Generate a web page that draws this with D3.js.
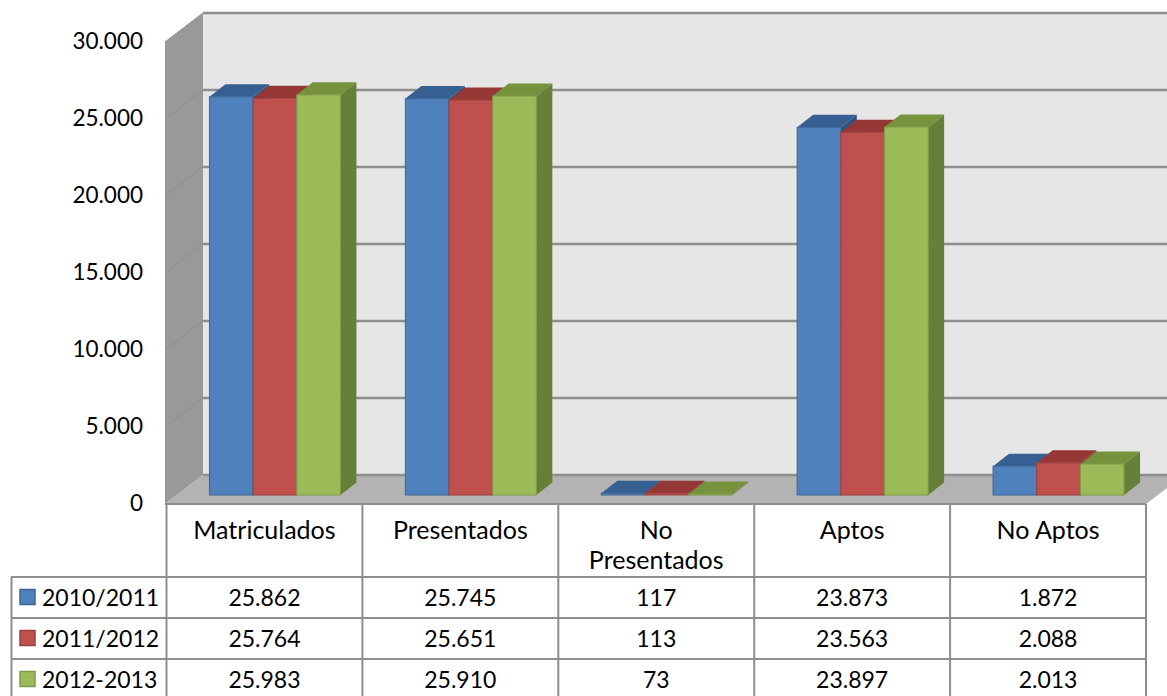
<!DOCTYPE html>
<html>
<head>
<meta charset="utf-8">
<script src="https://cdnjs.cloudflare.com/ajax/libs/d3/7.8.5/d3.min.js"></script>
<style>
  html, body { margin: 0; padding: 0; background: #fff; }
  svg { display: block; }
  text { font-family: Lato, "Open Sans", sans-serif; font-size: 23px; fill: #000; }
</style>
</head>
<body>
<svg></svg>
<script>
// Chart values
const categories = ['Matriculados', 'Presentados', 'No Presentados', 'Aptos', 'No Aptos'];
const seriesNames = ['2010/2011', '2011/2012', '2012-2013'];
const values2010 = [25862, 25745, 117, 23873, 1872];
const values2011 = [25764, 25651, 113, 23563, 2088];
const values2012 = [25983, 25910, 73, 23897, 2013];
const yTicks = [0, 5000, 10000, 15000, 20000, 25000, 30000];

const allValues = [values2010, values2011, values2012];

// Set standards
const width = 1167;
const height = 696;

const svg = d3.select('svg').attr('width', width).attr('height', height);

// Spanish number format, dot for thousands
const fmt = d3.formatLocale({decimal: ',', thousands: '.', grouping: [3], currency: ['', '€']}).format(',d');

// Scales for the front plane of the box
const x = d3.scaleBand().domain(categories).range([166.5, 1146]);
const y = d3.scaleLinear().domain([0, 30000]).range([504, 42]);
const depthX = 38, depthY = -29;

// Bars stand a bit behind the front plane
const barShiftX = 10.5, barShiftY = -9, barDepthX = 16, barDepthY = -12.5;
const inner = d3.scaleBand().domain(seriesNames).range([0, 131]);
const barOffset = (x.bandwidth() - 131) / 2 + barShiftX;

const faceColor = d3.scaleOrdinal(seriesNames, ['#4f81bd', '#c0504d', '#9bbb59']);
const topColor = d3.scaleOrdinal(seriesNames, ['#376092', '#953735', '#76923c']);
const sideColor = d3.scaleOrdinal(seriesNames, ['#2f5480', '#7f2f2d', '#66803a']);
const edgeColor = d3.scaleOrdinal(seriesNames, ['#3c6696', '#99403d', '#7f9a48']);
const gridColor = '#8e8e8e';

const poly = pts => pts.map(p => p.join(',')).join(' ');

// Walls and floor
const box = svg.append('g');
const left = x.range()[0] - 1.5, right = x.range()[1];
box.append('rect')
    .attr('x', left + depthX).attr('y', y(30000) + depthY)
    .attr('width', width - left - depthX).attr('height', y(0) - y(30000))
    .attr('fill', '#e6e6e6');
box.append('polygon')
    .attr('points', poly([[left, y(30000)], [left + depthX, y(30000) + depthY], [left + depthX, y(0) + depthY], [left, y(0)]]))
    .attr('fill', '#999999');
box.append('polygon')
    .attr('points', poly([[left, y(0)], [left + depthX, y(0) + depthY], [right + depthX, y(0) + depthY], [right, y(0)]]))
    .attr('fill', '#b3b3b3');

// Gridlines on back wall and left wall
box.selectAll('.grid-back').data(yTicks).join('line')
    .attr('class', 'grid-back')
    .attr('x1', left + depthX).attr('x2', width)
    .attr('y1', d => y(d) + depthY).attr('y2', d => y(d) + depthY)
    .attr('stroke', gridColor).attr('stroke-width', 2.5);
box.selectAll('.grid-left').data(yTicks.slice(1)).join('line')
    .attr('class', 'grid-left')
    .attr('x1', left).attr('x2', left + depthX)
    .attr('y1', d => y(d)).attr('y2', d => y(d) + depthY)
    .attr('stroke', gridColor).attr('stroke-width', 1);

// Bars
categories.forEach((cat, c) => {
    const g = svg.append('g');
    seriesNames.forEach((s, i) => {
        const v = allValues[i][c];
        const x0 = x(cat) + barOffset + inner(s);
        const x1 = x0 + inner.bandwidth();
        const yBase = y(0) + barShiftY;
        const yTop = yBase - (y(0) - y(v));

        // Right side
        g.append('polygon')
            .attr('points', poly([[x1, yTop], [x1 + barDepthX, yTop + barDepthY], [x1 + barDepthX, yBase + barDepthY], [x1, yBase]]))
            .attr('fill', sideColor(s));
        // Top
        g.append('polygon')
            .attr('points', poly([[x0, yTop], [x0 + barDepthX, yTop + barDepthY], [x1 + barDepthX, yTop + barDepthY], [x1, yTop]]))
            .attr('fill', topColor(s));
        // Front
        g.append('rect')
            .attr('x', x0).attr('y', yTop)
            .attr('width', inner.bandwidth()).attr('height', yBase - yTop)
            .attr('fill', faceColor(s))
            .attr('stroke', edgeColor(s)).attr('stroke-width', 1);
    });
});

// Value axis, labels only
const axis = svg.append('g')
    .attr('transform', 'translate(143,0)')
    .call(d3.axisLeft(y).tickValues(yTicks).tickFormat(fmt).tickSize(0).tickPadding(0));
axis.select('.domain').remove();
axis.selectAll('text').style('font-size', '22.5px').style('font-family', 'Lato').attr('fill', '#000').attr('dy', '0.3em');

// Data table
const rowY = d3.scaleBand().domain(seriesNames).range([577, 700]);
const table = svg.append('g');
const hLine = (x1, x2, yy) => table.append('line').attr('x1', x1).attr('x2', x2).attr('y1', yy).attr('y2', yy)
    .attr('stroke', gridColor).attr('stroke-width', 2);
const vLine = (xx, y1, y2) => table.append('line').attr('x1', xx).attr('x2', xx).attr('y1', y1).attr('y2', y2)
    .attr('stroke', gridColor).attr('stroke-width', 2);

hLine(left, right, 504);
hLine(11, right, 577);
seriesNames.forEach(s => hLine(11, right, rowY(s) + rowY.bandwidth()));
vLine(11.5, 577, 696);
categories.forEach(c => vLine(x(c), 504, 696));
vLine(right, 504, 696);

// Category labels
categories.forEach(c => {
    const words = c === 'No Presentados' ? ['No', 'Presentados'] : [c];
    words.forEach((w, i) => {
        table.append('text')
            .attr('x', x(c) + x.bandwidth() / 2)
            .attr('y', 539 + i * 30)
            .attr('text-anchor', 'middle')
            .style('font-size', '25px')
            .text(w);
    });
});

// Rows with legend keys
seriesNames.forEach((s, i) => {
    const cy = rowY(s) + rowY.bandwidth() / 2;
    table.append('rect')
        .attr('x', 20).attr('y', cy - 8)
        .attr('width', 15).attr('height', 15)
        .attr('fill', faceColor(s)).attr('stroke', edgeColor(s)).attr('stroke-width', 1.5);
    table.append('text').attr('x', 42).attr('y', cy + 8).text(s);
    categories.forEach((c, k) => {
        table.append('text')
            .attr('x', x(c) + x.bandwidth() / 2)
            .attr('y', cy + 8)
            .attr('text-anchor', 'middle')
            .text(fmt(allValues[i][k]));
    });
});
</script>
</body>
</html>
